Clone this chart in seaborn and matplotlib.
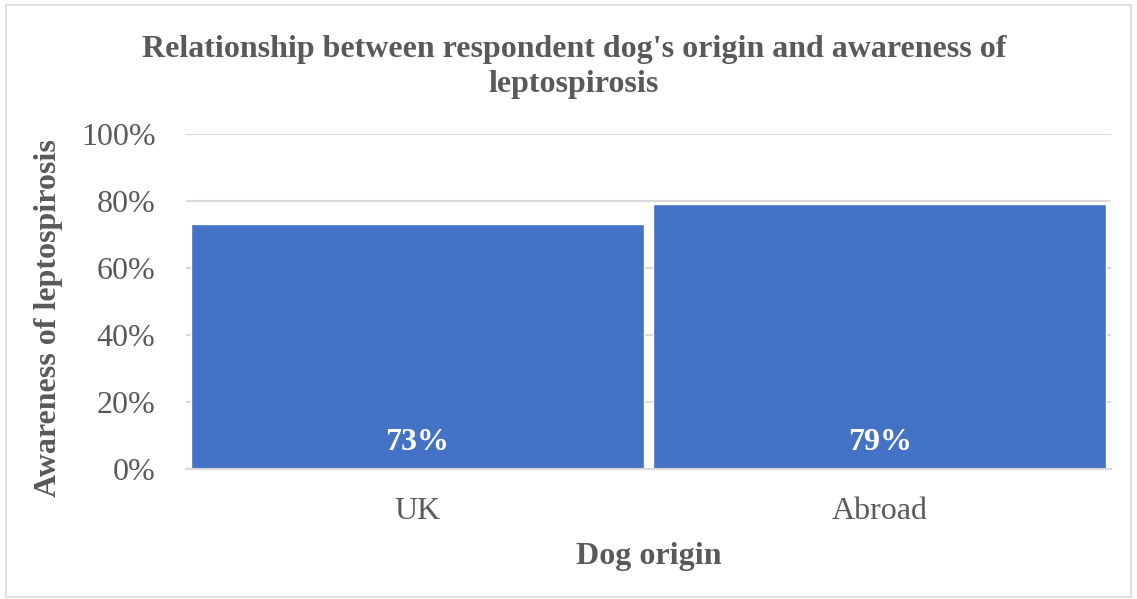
import matplotlib
matplotlib.use("Agg")
import matplotlib.pyplot as plt
from matplotlib.patches import Rectangle
from matplotlib.ticker import PercentFormatter
import seaborn as sns
import pandas as pd

# Share of respondents aware of leptospirosis, by where their dog came from
origins = ["UK", "Abroad"]
awareness = [73, 79]
y_ticks = [0, 20, 40, 60, 80, 100]

sns.set_theme(style="white")
plt.rcParams["font.family"] = ["Liberation Serif", "DejaVu Serif"]

text_color = "#595959"
grid_color = "#D9D9D9"
bar_color = "#4472C4"
fs = 23

df = pd.DataFrame({"origin": origins, "awareness": awareness})

fig = plt.figure(figsize=(11.37, 5.99), dpi=100)
ax = fig.add_axes([186 / 1137, 1 - 469 / 599, (1111 - 186) / 1137, (469 - 134) / 599])

sns.barplot(data=df, x="origin", y="awareness", color=bar_color, width=0.98,
            saturation=1, ax=ax, zorder=2)

ax.set_ylim(0, 100)
ax.set_yticks(y_ticks)
ax.yaxis.set_major_formatter(PercentFormatter(decimals=0))
ax.grid(axis="y", color=grid_color, linewidth=1.5, zorder=0)
ax.set_axisbelow(True)
for side in ["top", "right", "left"]:
    ax.spines[side].set_visible(False)
ax.spines["bottom"].set_color(grid_color)
ax.spines["bottom"].set_linewidth(1.5)
ax.tick_params(axis="both", length=0, labelsize=fs, labelcolor=text_color)
ax.tick_params(axis="y", pad=22)
ax.tick_params(axis="x", pad=20)

for patch, val in zip(ax.patches, awareness):
    ax.text(patch.get_x() + patch.get_width() / 2, 8, f"{val}%",
            ha="center", va="center", color="white", fontsize=fs,
            fontweight="bold", zorder=3)

ax.set_xlabel("Dog origin", fontsize=fs, fontweight="bold", color=text_color, labelpad=12)
ax.set_ylabel("Awareness of leptospirosis", fontsize=fs, fontweight="bold",
              color=text_color)
ax.yaxis.set_label_coords(-0.133, 0.451)

fig.text(574 / 1137, 1 - 67 / 599,
         "Relationship between respondent dog's origin and awareness of\nleptospirosis",
         ha="center", va="center", fontsize=fs, fontweight="bold", color=text_color,
         linespacing=1.25)

fig.patches.append(Rectangle((6 / 1137, 2 / 599), 1125 / 1137, 592 / 599,
                             transform=fig.transFigure, fill=False,
                             edgecolor="#D9D9D9", linewidth=1.2))

fig.savefig("out.png", dpi=100)
